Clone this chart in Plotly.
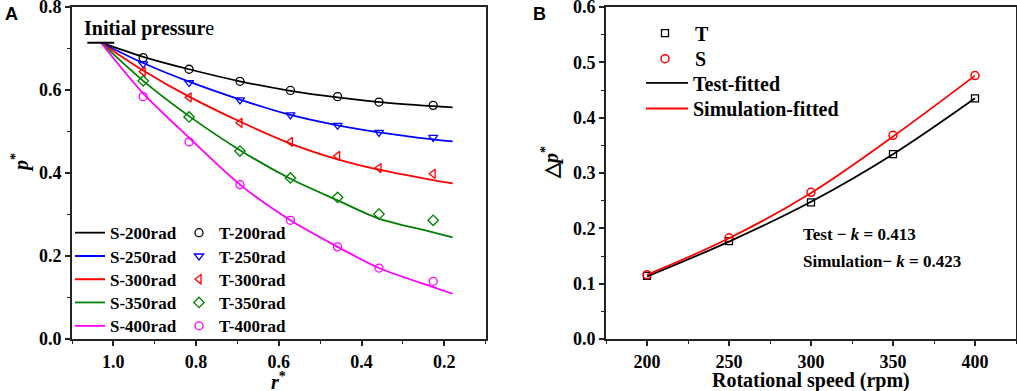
import plotly.graph_objects as go

W, H = 1017, 391

# ---------------- Panel A data ----------------
r_test = [0.928, 0.817, 0.694, 0.572, 0.458, 0.358, 0.227]
r_line = [1.03, 0.928, 0.817, 0.694, 0.572, 0.458, 0.358, 0.227, 0.18]
speeds_a = ["200", "250", "300", "350", "400"]
S_lines = {
    "200": [0.714, 0.680, 0.650, 0.621, 0.598, 0.582, 0.571, 0.561, 0.558],
    "250": [0.714, 0.665, 0.620, 0.577, 0.540, 0.515, 0.498, 0.481, 0.476],
    "300": [0.714, 0.647, 0.584, 0.524, 0.471, 0.433, 0.408, 0.383, 0.375],
    "350": [0.714, 0.622, 0.537, 0.455, 0.386, 0.334, 0.290, 0.257, 0.245],
    "400": [0.714, 0.592, 0.485, 0.372, 0.286, 0.222, 0.171, 0.125, 0.109],
}
T_points = {
    "200": [0.678, 0.650, 0.621, 0.599, 0.584, 0.571, 0.563],
    "250": [0.663, 0.618, 0.576, 0.540, 0.515, 0.498, 0.486],
    "300": [0.644, 0.582, 0.521, 0.475, 0.441, 0.412, 0.398],
    "350": [0.622, 0.535, 0.453, 0.388, 0.341, 0.301, 0.286],
    "400": [0.584, 0.475, 0.372, 0.286, 0.222, 0.171, 0.139],
}
INITIAL_P = 0.714
INITIAL_BAR_R = [1.063, 0.998]
A_xticks = [1.0, 0.8, 0.6, 0.4, 0.2]
A_yticks = [0.0, 0.2, 0.4, 0.6, 0.8]

colors = {"200": "#000000", "250": "#0000FF", "300": "#FF0000",
          "350": "#008000", "400": "#FF00FF"}
symbols = {"200": "circle-open", "250": "triangle-down-open",
           "300": "triangle-left-open", "350": "diamond-open",
           "400": "circle-open"}

# ---------------- Panel B data ----------------
rpm = [200, 250, 300, 350, 400]
T_dp = [0.114, 0.177, 0.247, 0.334, 0.435]
S_dp = [0.116, 0.183, 0.265, 0.368, 0.476]
T_fit = [0.113, 0.176, 0.248, 0.334, 0.435]
S_fit = [0.116, 0.182, 0.264, 0.366, 0.476]
B_xticks = [200, 250, 300, 350, 400]
B_yticks = [0.0, 0.1, 0.2, 0.3, 0.4, 0.5, 0.6]

SERIF = "Liberation Serif"
AXC = "#222222"

# plot-area geometry (pixels)
ML, MR, MT, MB = 72, 1, 6.5, 51.5
PW = W - ML - MR
PH = H - MT - MB


def px_x(p):
    return (p - ML) / PW


def px_y(p):
    return (H - MB - p) / PH


fig = go.Figure()
legends = {}
leg_n = [0]


def new_legend(x_left, y_mid, size, itemwidth=30):
    leg_n[0] += 1
    name = "legend" if leg_n[0] == 1 else f"legend{leg_n[0]}"
    legends[name] = dict(x=px_x(x_left), y=px_y(y_mid), xanchor="left",
                         yanchor="middle", bgcolor="rgba(0,0,0,0)",
                         borderwidth=0, itemwidth=itemwidth,
                         font=dict(family=SERIF, size=size, weight="bold"))
    return name


rowsA = [233.3, 256.7, 280.0, 303.3, 326.7]
for i, s in enumerate(speeds_a):
    fig.add_trace(go.Scatter(
        x=r_line, y=S_lines[s], mode="lines", name=f"S-{s}rad",
        line=dict(color=colors[s], width=1.8, shape="spline", smoothing=0.8),
        xaxis="x", yaxis="y", legend=new_legend(70, rowsA[i], 17)))
for i, s in enumerate(speeds_a):
    fig.add_trace(go.Scatter(
        x=r_test, y=T_points[s], mode="markers", name=f"T-{s}rad",
        marker=dict(symbol=symbols[s], size=8, color=colors[s],
                    line=dict(width=1.3, color=colors[s])),
        xaxis="x", yaxis="y", legend=new_legend(179, rowsA[i], 17)))

fig.add_trace(go.Scatter(
    x=rpm, y=T_dp, mode="markers", name="T",
    marker=dict(symbol="square-open", size=7, color="#000000",
                line=dict(width=1.3)),
    xaxis="x2", yaxis="y2", legend=new_legend(635, 32.7, 20, 50)))
fig.add_trace(go.Scatter(
    x=rpm, y=S_dp, mode="markers", name="S",
    marker=dict(symbol="circle-open", size=8, color="#FF0000",
                line=dict(width=1.5)),
    xaxis="x2", yaxis="y2", legend=new_legend(635, 58.3, 20, 50)))
fig.add_trace(go.Scatter(
    x=rpm, y=T_fit, mode="lines", name="Test-fitted",
    line=dict(color="#000000", width=1.8, shape="spline"),
    xaxis="x2", yaxis="y2", legend=new_legend(641, 82.7, 20, 42)))
fig.add_trace(go.Scatter(
    x=rpm, y=S_fit, mode="lines", name="Simulation-fitted",
    line=dict(color="#FF0000", width=1.8, shape="spline"),
    xaxis="x2", yaxis="y2", legend=new_legend(641, 108.3, 20, 42)))

axis_common = dict(showline=True, linecolor=AXC, linewidth=1.6,
                   mirror=True, ticks="outside", ticklen=5, tickwidth=1.5,
                   tickcolor=AXC, showgrid=False, zeroline=False,
                   automargin=False, tickmode="array",
                   ticklabeloverflow="allow",
                   tickfont=dict(family=SERIF, size=18, color="#000000",
                                 weight="bold"))
minor_common = dict(ticks="outside", ticklen=3, tickcolor=AXC,
                    tickwidth=1.2, showgrid=False, tickmode="linear", tick0=0)

xA_end = px_x(485.7)
xB_start = px_x(606)

fig.update_layout(
    width=W, height=H,
    margin=dict(l=ML, r=MR, t=MT, b=MB, autoexpand=False),
    paper_bgcolor="white", plot_bgcolor="white",
    font=dict(family=SERIF, size=18, color="#000000", weight="bold"),
    xaxis=dict(domain=[0, xA_end], range=[1.1, 0.1],
               tickvals=A_xticks, ticktext=[f"{v:.1f}" for v in A_xticks],
               anchor="y", ticklabelstandoff=1,
               minor=dict(dtick=0.1, **minor_common), **axis_common),
    yaxis=dict(domain=[0, 1], range=[0, 0.8],
               tickvals=A_yticks, ticktext=[f"{v:.1f}" for v in A_yticks],
               anchor="x", minor=dict(dtick=0.1, **minor_common),
               **axis_common),
    xaxis2=dict(domain=[xB_start, 1], range=[175, 425],
                tickvals=B_xticks, ticktext=[str(v) for v in B_xticks],
                anchor="y2", ticklabelstandoff=1,
                minor=dict(dtick=25, **minor_common), **axis_common),
    yaxis2=dict(domain=[0, 1], range=[0, 0.6],
                tickvals=B_yticks, ticktext=[f"{v:.1f}" for v in B_yticks],
                anchor="x2", minor=dict(dtick=0.05, **minor_common),
                **axis_common),
    showlegend=True,
    **legends,
)

# Initial pressure bar
fig.add_shape(type="line", xref="x", yref="y",
              x0=INITIAL_BAR_R[0], x1=INITIAL_BAR_R[1],
              y0=INITIAL_P, y1=INITIAL_P,
              line=dict(color="#000000", width=2))

annots = [
    dict(text="<b>Initial pressur</b>e", x=px_x(82), y=px_y(28),
         xanchor="left", yanchor="middle",
         font=dict(family=SERIF, size=20, weight="normal")),
    dict(text="A", x=px_x(11), y=px_y(14), xanchor="center", yanchor="middle",
         font=dict(family="Liberation Sans", size=18, weight="bold")),
    dict(text="B", x=px_x(539), y=px_y(14), xanchor="center", yanchor="middle",
         font=dict(family="Liberation Sans", size=18, weight="bold")),
    dict(text="<i>r</i><sup>*</sup>", x=px_x(278), y=px_y(382),
         xanchor="center", yanchor="middle",
         font=dict(family=SERIF, size=20, weight="bold")),
    dict(text="Rotational speed (rpm)", x=px_x(811), y=px_y(381),
         xanchor="center", yanchor="middle",
         font=dict(family=SERIF, size=20, weight="bold")),
    dict(text="<i>p</i><sup>*</sup>", x=px_x(20), y=px_y(163),
         xanchor="center", yanchor="middle", textangle=-90,
         font=dict(family=SERIF, size=20, weight="bold")),
    dict(text="△<i>p</i><sup>*</sup>", x=px_x(550), y=px_y(163),
         xanchor="center", yanchor="middle", textangle=-90,
         font=dict(family=SERIF, size=20, weight="bold")),
    dict(text="Test − <i>k</i> = 0.413", x=px_x(801), y=px_y(235),
         xanchor="left", yanchor="middle",
         font=dict(family=SERIF, size=17, weight="bold")),
    dict(text="Simulation− <i>k</i> = 0.423", x=px_x(801), y=px_y(262),
         xanchor="left", yanchor="middle",
         font=dict(family=SERIF, size=17, weight="bold")),
]
for a in annots:
    a.update(xref="paper", yref="paper", showarrow=False)
    fig.add_annotation(**a)

fig.write_html("out.html",
               config={"displayModeBar": False},
               post_script="document.body.style.margin='0px';"
                           "document.body.style.padding='0px';")
